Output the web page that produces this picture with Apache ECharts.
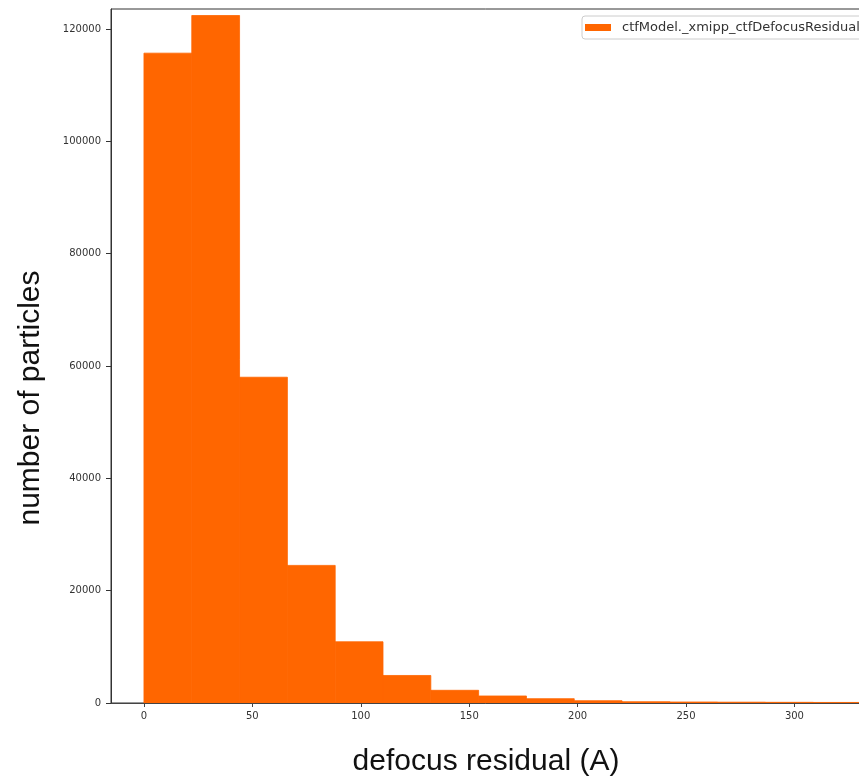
<!DOCTYPE html>
<html>
<head>
<meta charset="utf-8">
<script src="https://cdn.jsdelivr.net/npm/echarts@6/dist/echarts.min.js"></script>
<style>
  html, body { margin: 0; padding: 0; background: #fff; overflow: hidden; }
  #chart { width: 859px; height: 776px; }
</style>
</head>
<body>
<div id="chart"></div>
<script>
// Histogram of CTF defocus residuals (bin edges in Å, counts per bin)
const binEdges = [0, 22.05, 44.1, 66.15, 88.2, 110.25, 132.3, 154.35, 176.4, 198.45,
                  220.5, 242.55, 264.6, 286.65, 308.7, 330.75];
const counts = [115700, 122400, 58000, 24500, 10900, 4900, 2260, 1250, 770, 410,
                230, 180, 150, 120, 100];
const seriesName = 'ctfModel._xmipp_ctfDefocusResidual';
const xTicks = [0, 50, 100, 150, 200, 250, 300];
const yTicks = [0, 20000, 40000, 60000, 80000, 100000, 120000];

const barColor = '#ff6600';
const tickFont = 'DejaVu Sans';
const titleFont = 'Liberation Sans';

const data = counts.map((c, i) => [binEdges[i], binEdges[i + 1], c]);

const chart = echarts.init(document.getElementById('chart'), null, { renderer: 'canvas' });

chart.setOption({
  animation: false,
  backgroundColor: '#ffffff',
  grid: {
    left: 111, right: -2, top: 9, bottom: 73,
    outerBoundsMode: 'none',
    show: true, borderColor: '#333', borderWidth: 1, backgroundColor: 'transparent'
  },
  legend: {
    left: 582, top: 16,
    padding: [5, 8, 5, 3],
    borderColor: '#cccccc', borderWidth: 1, borderRadius: 3,
    backgroundColor: '#ffffff',
    itemWidth: 26, itemHeight: 7,
    textStyle: { fontFamily: tickFont, fontSize: 13, color: '#333', padding: [0, 0, 0, 6] },
    data: [{ name: seriesName, icon: 'rect', itemStyle: { color: barColor } }]
  },
  xAxis: {
    type: 'value',
    min: -15.2, max: 330.7,
    name: 'defocus residual (A)',
    nameLocation: 'middle', nameGap: 44,
    nameTextStyle: { fontFamily: titleFont, fontSize: 30, color: '#111' },
    splitLine: { show: false },
    axisLine: { show: true, onZero: false, lineStyle: { color: '#444', width: 1 } },
    axisTick: { show: true, inside: false, length: 4, customValues: xTicks, lineStyle: { color: '#444' } },
    axisLabel: {
      customValues: xTicks, margin: 8, fontFamily: tickFont, fontSize: 10, color: '#333',
      formatter: v => String(v)
    }
  },
  yAxis: {
    type: 'value',
    min: 0, max: 123560,
    name: 'number of particles',
    nameLocation: 'middle', nameGap: 65, nameRotate: 90,
    nameTextStyle: { fontFamily: titleFont, fontSize: 30, color: '#111', padding: [0, 84, 0, 0] },
    splitLine: { show: false },
    axisLine: { show: true, onZero: false, lineStyle: { color: '#333', width: 1 } },
    axisTick: { show: true, inside: false, length: 5, customValues: yTicks, lineStyle: { color: '#333' } },
    axisLabel: {
      customValues: yTicks, margin: 10, fontFamily: tickFont, fontSize: 10, color: '#333',
      formatter: v => String(v)
    }
  },
  series: [{
    name: seriesName,
    type: 'custom',
    clip: true,
    itemStyle: { color: barColor },
    encode: { x: [0, 1], y: 2 },
    data: data,
    renderItem: function (params, api) {
      const p0 = api.coord([api.value(0), api.value(2)]);
      const p1 = api.coord([api.value(1), 0]);
      return {
        type: 'rect',
        shape: { x: p0[0], y: p0[1], width: p1[0] - p0[0], height: p1[1] - p0[1] },
        style: { fill: barColor, stroke: barColor, lineWidth: 0.8 }
      };
    }
  }]
});
</script>
</body>
</html>
